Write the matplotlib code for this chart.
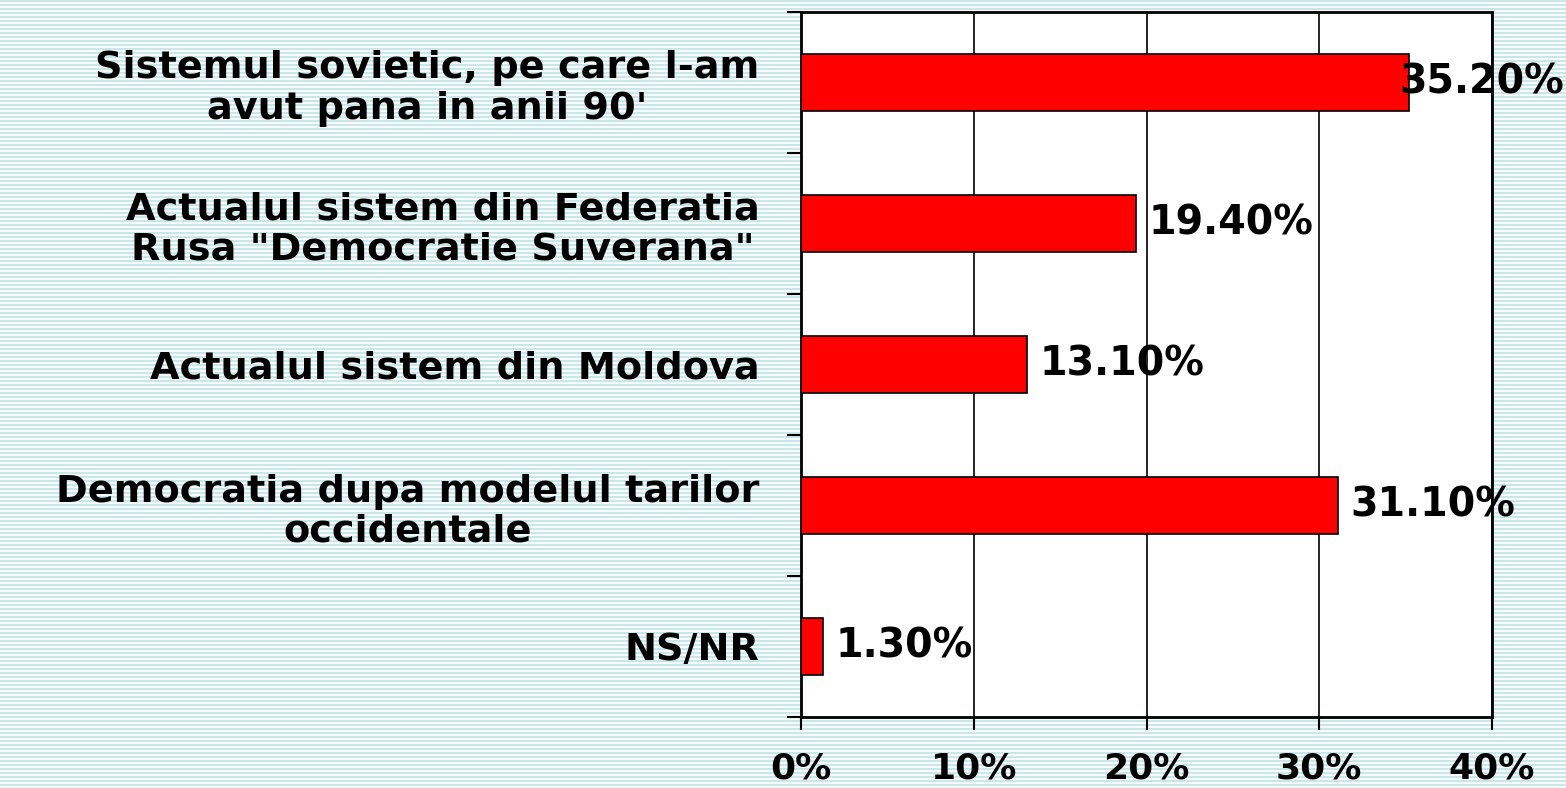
import numpy as np
import matplotlib
matplotlib.use("Agg")
import matplotlib.pyplot as plt

categories = [
    "Sistemul sovietic, pe care l-am\navut pana in anii 90'",
    "Actualul sistem din Federatia\nRusa \"Democratie Suverana\"",
    "Actualul sistem din Moldova",
    "Democratia dupa modelul tarilor\noccidentale",
    "NS/NR",
]
values = [35.2, 19.4, 13.1, 31.1, 1.3]
value_labels = ["35.20%", "19.40%", "13.10%", "31.10%", "1.30%"]
xticks = [0, 10, 20, 30, 40]
xtick_labels = ["0%", "10%", "20%", "30%", "40%"]

plt.rcParams["font.family"] = ["DejaVu Sans"]
plt.rcParams["font.weight"] = "bold"

W, H = 1566, 788
fig = plt.figure(figsize=(W / 100, H / 100), dpi=100)

# striped background
rows = np.arange(H)
bg = np.where((rows % 4) < 2, 0.0, 1.0)[:, None, None]
stripe = np.array([0.80, 0.90, 0.91])
white = np.array([0.96, 0.985, 0.99])
img = bg * white + (1 - bg) * stripe
img = np.broadcast_to(img, (H, W, 3)).copy()
fig.figimage(img, 0, 0, zorder=0)

ax = fig.add_axes([801 / W, 1 - 717 / H, (1492 - 801) / W, (717 - 12) / H])
ax.set_zorder(2)
ax.set_facecolor("white")

y = np.arange(len(categories))
ax.barh(y, values, height=0.41, color="#ff0000", edgecolor="black", linewidth=1.2, zorder=3)

ax.set_xlim(0, 40)
ax.set_ylim(len(categories) - 0.5, -0.5)
ax.set_xticks(xticks)
ax.set_xticklabels(xtick_labels, fontsize=26, fontweight="bold")
ax.grid(axis="x", color="black", linewidth=1.2, zorder=1)

ax.set_yticks(y)
ax.set_yticklabels(categories, fontsize=27.5, fontweight="bold", linespacing=1.15)
ax.tick_params(axis="y", which="major", length=0, pad=30)
ax.set_yticks(np.arange(-0.5, len(categories)), minor=True)
ax.tick_params(axis="y", which="minor", length=10, width=1.5, direction="out")
ax.tick_params(axis="x", length=9, width=1.5, direction="out", pad=16)

for lbl in ax.get_yticklabels():
    lbl.set_horizontalalignment("right")
    lbl.set_multialignment("center")

for s in ax.spines.values():
    s.set_linewidth(2)

for i, (v, t) in enumerate(zip(values, value_labels)):
    off = 9 if v < 34 else -7
    ax.annotate(t, (v, i), xytext=(off, 0), textcoords="offset points",
                ha="left", va="center", fontsize=28.5, fontweight="bold", zorder=5,
                annotation_clip=False)

fig.savefig("out.png", dpi=100)
